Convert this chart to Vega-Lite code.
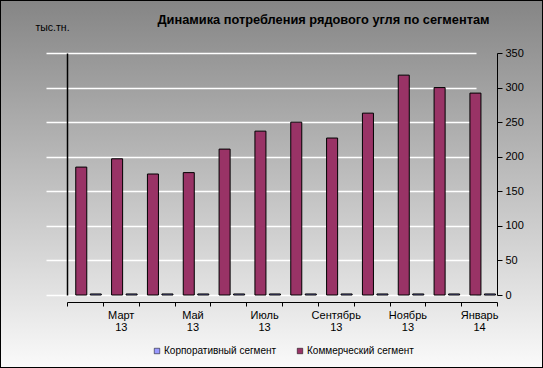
{
  "$schema": "https://vega.github.io/schema/vega-lite/v6.json",
  "width": 543,
  "height": 368,
  "autosize": {"type": "none"},
  "padding": 0,
  "title": {
    "text": "Динамика потребления рядового угля по сегментам",
    "anchor": "middle",
    "dx": 52,
    "offset": -27,
    "font": "Liberation Sans",
    "fontSize": 12.8,
    "fontWeight": "bold",
    "color": "#000000"
  },
  "data": {
    "values": [
      {"month": "Февраль 13", "series": "Коммерческий сегмент", "value": 185},
      {"month": "Февраль 13", "series": "Корпоративный сегмент", "value": 1.5},
      {"month": "Март 13", "series": "Коммерческий сегмент", "value": 197},
      {"month": "Март 13", "series": "Корпоративный сегмент", "value": 1.5},
      {"month": "Апрель 13", "series": "Коммерческий сегмент", "value": 175},
      {"month": "Апрель 13", "series": "Корпоративный сегмент", "value": 1.5},
      {"month": "Май 13", "series": "Коммерческий сегмент", "value": 177},
      {"month": "Май 13", "series": "Корпоративный сегмент", "value": 1.5},
      {"month": "Июнь 13", "series": "Коммерческий сегмент", "value": 211},
      {"month": "Июнь 13", "series": "Корпоративный сегмент", "value": 1.5},
      {"month": "Июль 13", "series": "Коммерческий сегмент", "value": 237},
      {"month": "Июль 13", "series": "Корпоративный сегмент", "value": 1.5},
      {"month": "Август 13", "series": "Коммерческий сегмент", "value": 250},
      {"month": "Август 13", "series": "Корпоративный сегмент", "value": 1.5},
      {"month": "Сентябрь 13", "series": "Коммерческий сегмент", "value": 227},
      {"month": "Сентябрь 13", "series": "Корпоративный сегмент", "value": 1.5},
      {"month": "Октябрь 13", "series": "Коммерческий сегмент", "value": 263},
      {"month": "Октябрь 13", "series": "Корпоративный сегмент", "value": 1.5},
      {"month": "Ноябрь 13", "series": "Коммерческий сегмент", "value": 318},
      {"month": "Ноябрь 13", "series": "Корпоративный сегмент", "value": 1.5},
      {"month": "Декабрь 13", "series": "Коммерческий сегмент", "value": 300},
      {"month": "Декабрь 13", "series": "Корпоративный сегмент", "value": 1.5},
      {"month": "Январь 14", "series": "Коммерческий сегмент", "value": 292},
      {"month": "Январь 14", "series": "Корпоративный сегмент", "value": 1.5}
    ]
  },
  "layer": [
    {
      "mark": {"type": "bar", "stroke": "#000000", "strokeWidth": 1},
      "encoding": {
        "x": {
          "field": "month",
          "type": "nominal",
          "sort": null,
          "scale": {"range": [67, 497], "paddingInner": 0, "paddingOuter": 0},
          "axis": {
            "title": null,
            "orient": "bottom",
            "offset": -66,
            "labelAngle": 0,
            "labelAlign": "center",
            "labelOverlap": false,
            "labelExpr": "indexof(['Март 13','Май 13','Июль 13','Сентябрь 13','Ноябрь 13','Январь 14'], datum.label) >= 0 ? split(datum.label, ' ') : ''",
            "labelLineHeight": 12,
            "labelPadding": 3,
            "labelFontSize": 11,
            "tickBand": "extent",
            "tickSize": 4,
            "tickColor": "#000000",
            "domainColor": "#000000",
            "grid": false
          }
        },
        "xOffset": {
          "field": "series",
          "type": "nominal",
          "scale": {
            "domain": ["Коммерческий сегмент", "Корпоративный сегмент"],
            "paddingInner": 0.24,
            "paddingOuter": 0.355,
            "align": 0.85
          }
        },
        "y": {
          "field": "value",
          "type": "quantitative",
          "scale": {"domain": [0, 350], "range": [295, 53], "nice": false},
          "axis": {
            "title": null,
            "orient": "right",
            "offset": -46,
            "values": [0, 50, 100, 150, 200, 250, 300, 350],
            "labelFontSize": 11,
            "labelPadding": 3,
            "tickSize": 5,
            "tickColor": "#000000",
            "domainColor": "#000000",
            "grid": true,
            "gridColor": "#ffffff",
            "gridWidth": 1.5
          }
        },
        "color": {
          "field": "series",
          "type": "nominal",
          "scale": {
            "domain": ["Корпоративный сегмент", "Коммерческий сегмент"],
            "range": ["#9999ff", "#993366"]
          },
          "legend": {
            "title": null,
            "orient": "none",
            "direction": "horizontal",
            "legendX": 152,
            "legendY": 346,
            "symbolType": "square",
            "symbolSize": 30,
            "symbolStrokeColor": "#000000",
            "symbolStrokeWidth": 0.5,
            "labelFontSize": 10,
            "labelOffset": 2,
            "columnPadding": 18
          }
        }
      }
    },
    {
      "mark": {"type": "bar", "opacity": 0},
      "encoding": {
        "x": {"field": "month", "type": "nominal", "sort": null},
        "xOffset": {"field": "series", "type": "nominal"},
        "y": {
          "field": "value",
          "type": "quantitative",
          "axis": {
            "title": "тыс.тн.",
            "orient": "left",
            "offset": -67,
            "labels": false,
            "ticks": false,
            "grid": false,
            "domainColor": "#000000",
            "domainWidth": 1.5,
            "titleAngle": 0,
            "titleAlign": "left",
            "titleBaseline": "alphabetic",
            "titleX": -32,
            "titleY": 30,
            "titleFontSize": 10.5,
            "titleFontWeight": "normal"
          }
        }
      }
    }
  ],
  "resolve": {"axis": {"y": "independent"}},
  "config": {
    "font": "Liberation Sans",
    "view": {
      "stroke": "#000000",
      "strokeWidth": 2,
      "fill": {
        "gradient": "linear",
        "x1": 0, "y1": 0, "x2": 0, "y2": 1,
        "stops": [
          {"offset": 0, "color": "#858585"},
          {"offset": 1, "color": "#fafafa"}
        ]
      }
    },
    "axis": {
      "labelColor": "#000000",
      "titleColor": "#000000",
      "labelFont": "Liberation Sans",
      "titleFont": "Liberation Sans"
    },
    "legend": {"labelColor": "#000000", "labelFont": "Liberation Sans"}
  }
}
